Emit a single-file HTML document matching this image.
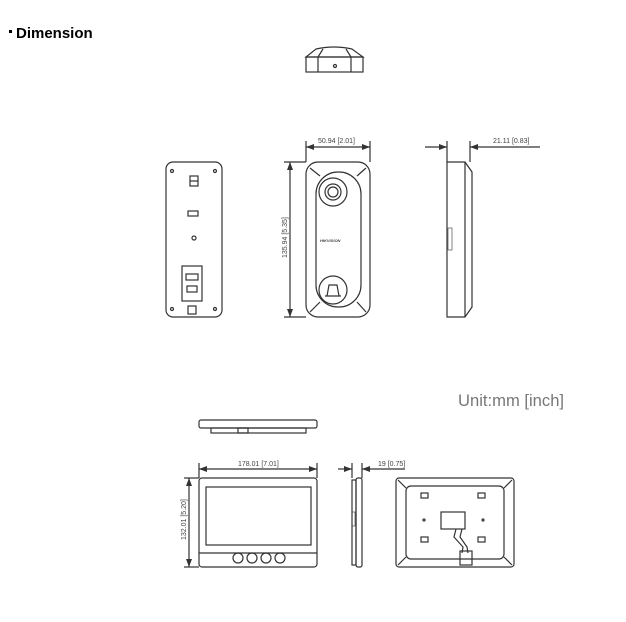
<!DOCTYPE html>
<html><head><meta charset="utf-8"><style>
html,body{margin:0;padding:0;background:#fff;width:626px;height:622px;overflow:hidden}
svg{display:block}
text{font-family:"Liberation Sans",sans-serif}
</style></head><body>
<svg width="626" height="622" viewBox="0 0 626 622" xmlns="http://www.w3.org/2000/svg">
<defs><marker id="a" markerWidth="8" markerHeight="6" refX="8" refY="3" orient="auto" markerUnits="userSpaceOnUse"><path d="M0,0 L8,3 L0,6z" fill="#333"/></marker></defs>
<rect x="9" y="30" width="3" height="3" fill="#000"/>
<text x="16" y="38" font-size="15" font-weight="bold" fill="#000">Dimension</text>
<g fill="none" stroke="#333" stroke-width="1.2">
<path d="M306,57 L316,49 Q334,45 352,49 L363,57 Z"/>
<rect x="306" y="57" width="57" height="15"/>
<line x1="318" y1="57" x2="318" y2="72"/><line x1="351" y1="57" x2="351" y2="72"/>
<line x1="318" y1="57" x2="323" y2="49"/><line x1="351" y1="57" x2="346" y2="49"/>
<circle cx="335" cy="66" r="1.5"/>
<rect x="166" y="162" width="56" height="155" rx="7"/>
<circle cx="172" cy="171" r="1.5"/><circle cx="215" cy="171" r="1.5"/><circle cx="172" cy="309" r="1.5"/><circle cx="215" cy="309" r="1.5"/>
<rect x="190" y="176" width="8" height="10"/><line x1="190" y1="181" x2="198" y2="181"/>
<rect x="188" y="211" width="10" height="5"/>
<circle cx="194" cy="238" r="2"/>
<rect x="182" y="266" width="20" height="35"/>
<rect x="186" y="274" width="12" height="6"/><rect x="187" y="286" width="10" height="6"/>
<rect x="188" y="306" width="8" height="8"/>
<rect x="306" y="162" width="64" height="155" rx="12"/>
<rect x="316" y="172" width="45" height="135" rx="22"/>
<circle cx="333" cy="192" r="14"/><circle cx="333" cy="192" r="8"/><circle cx="333" cy="192" r="5"/>
<circle cx="333" cy="290" r="14"/>
<path d="M327,296 L329,285 L337,285 L339,296 M325,296 L341,296"/>
<line x1="310" y1="168" x2="320" y2="176"/><line x1="366" y1="168" x2="357" y2="176"/>
<line x1="310" y1="312" x2="320" y2="302"/><line x1="366" y1="312" x2="357" y2="302"/>
<line x1="306" y1="162" x2="306" y2="141"/><line x1="370" y1="162" x2="370" y2="141"/>
<line x1="338" y1="147" x2="306" y2="147" marker-end="url(#a)"/><line x1="338" y1="147" x2="370" y2="147" marker-end="url(#a)"/>
<line x1="306" y1="162" x2="284" y2="162"/><line x1="306" y1="317" x2="284" y2="317"/>
<line x1="290" y1="240" x2="290" y2="162" marker-end="url(#a)"/><line x1="290" y1="240" x2="290" y2="317" marker-end="url(#a)"/>
<path d="M447,162 L465,162 L472,172 L472,307 L465,317 L447,317 Z"/>
<line x1="465" y1="162" x2="465" y2="317"/>
<line x1="447" y1="162" x2="447" y2="141"/><line x1="470" y1="162" x2="470" y2="141"/>
<line x1="425" y1="147" x2="447" y2="147" marker-end="url(#a)"/><line x1="540" y1="147" x2="470" y2="147" marker-end="url(#a)"/>
<rect x="448" y="228" width="4" height="22" stroke-width="0.6"/>
<rect x="199" y="420" width="118" height="8" rx="2"/>
<rect x="211" y="428" width="95" height="5"/><rect x="238" y="428" width="10" height="5"/>
<rect x="199" y="478" width="118" height="89" rx="3"/>
<rect x="206" y="487" width="105" height="58"/>
<line x1="199" y1="553" x2="317" y2="553"/>
<circle cx="238" cy="558" r="5"/><circle cx="252" cy="558" r="5"/><circle cx="266" cy="558" r="5"/><circle cx="280" cy="558" r="5"/>
<line x1="199" y1="478" x2="199" y2="463"/><line x1="317" y1="478" x2="317" y2="463"/>
<line x1="258" y1="469" x2="199" y2="469" marker-end="url(#a)"/><line x1="258" y1="469" x2="317" y2="469" marker-end="url(#a)"/>
<line x1="199" y1="478" x2="184" y2="478"/><line x1="199" y1="567" x2="184" y2="567"/>
<line x1="189" y1="522" x2="189" y2="478" marker-end="url(#a)"/><line x1="189" y1="522" x2="189" y2="567" marker-end="url(#a)"/>
<rect x="352" y="480" width="4" height="85"/><rect x="356" y="478" width="6" height="89" rx="2"/>
<line x1="352" y1="478" x2="352" y2="463"/><line x1="362" y1="478" x2="362" y2="463"/>
<line x1="338" y1="469" x2="352" y2="469" marker-end="url(#a)"/><line x1="405" y1="469" x2="362" y2="469" marker-end="url(#a)"/>
<rect x="352" y="512" width="3" height="14" stroke-width="0.6"/>
<rect x="396" y="478" width="118" height="89" rx="3"/>
<rect x="406" y="486" width="98" height="73" rx="5"/>
<line x1="398" y1="480" x2="406" y2="488"/><line x1="512" y1="480" x2="504" y2="488"/>
<line x1="398" y1="565" x2="406" y2="557"/><line x1="512" y1="565" x2="504" y2="557"/>
<rect x="421" y="493" width="7" height="5"/><rect x="478" y="493" width="7" height="5"/>
<rect x="421" y="537" width="7" height="5"/><rect x="478" y="537" width="7" height="5"/>
<rect x="441" y="512" width="24" height="17"/>
<circle cx="424" cy="520" r="1"/><circle cx="483" cy="520" r="1"/>
<path d="M456,529 L454,537 L463,547 L462,553 M462,529 L460,537 L467,547 L468,553"/>
<rect x="460" y="551" width="12" height="14"/>
</g>
<g fill="#444" font-size="7">
<text x="318" y="143">50.94 [2.01]</text>
<text x="493" y="143">21.11 [0.83]</text>
<text x="238" y="466">178.01 [7.01]</text>
<text x="378" y="466">19 [0.75]</text>
<text transform="translate(287,258) rotate(-90)">135.94 [5.35]</text>
<text transform="translate(186,540) rotate(-90)">132.01 [5.20]</text>
<text x="320" y="242" font-size="4" font-weight="bold" font-style="italic">HIKVISION</text>
</g>
<text x="458" y="406" font-size="16.6" fill="#777">Unit:mm [inch]</text>
</svg>
</body></html>
